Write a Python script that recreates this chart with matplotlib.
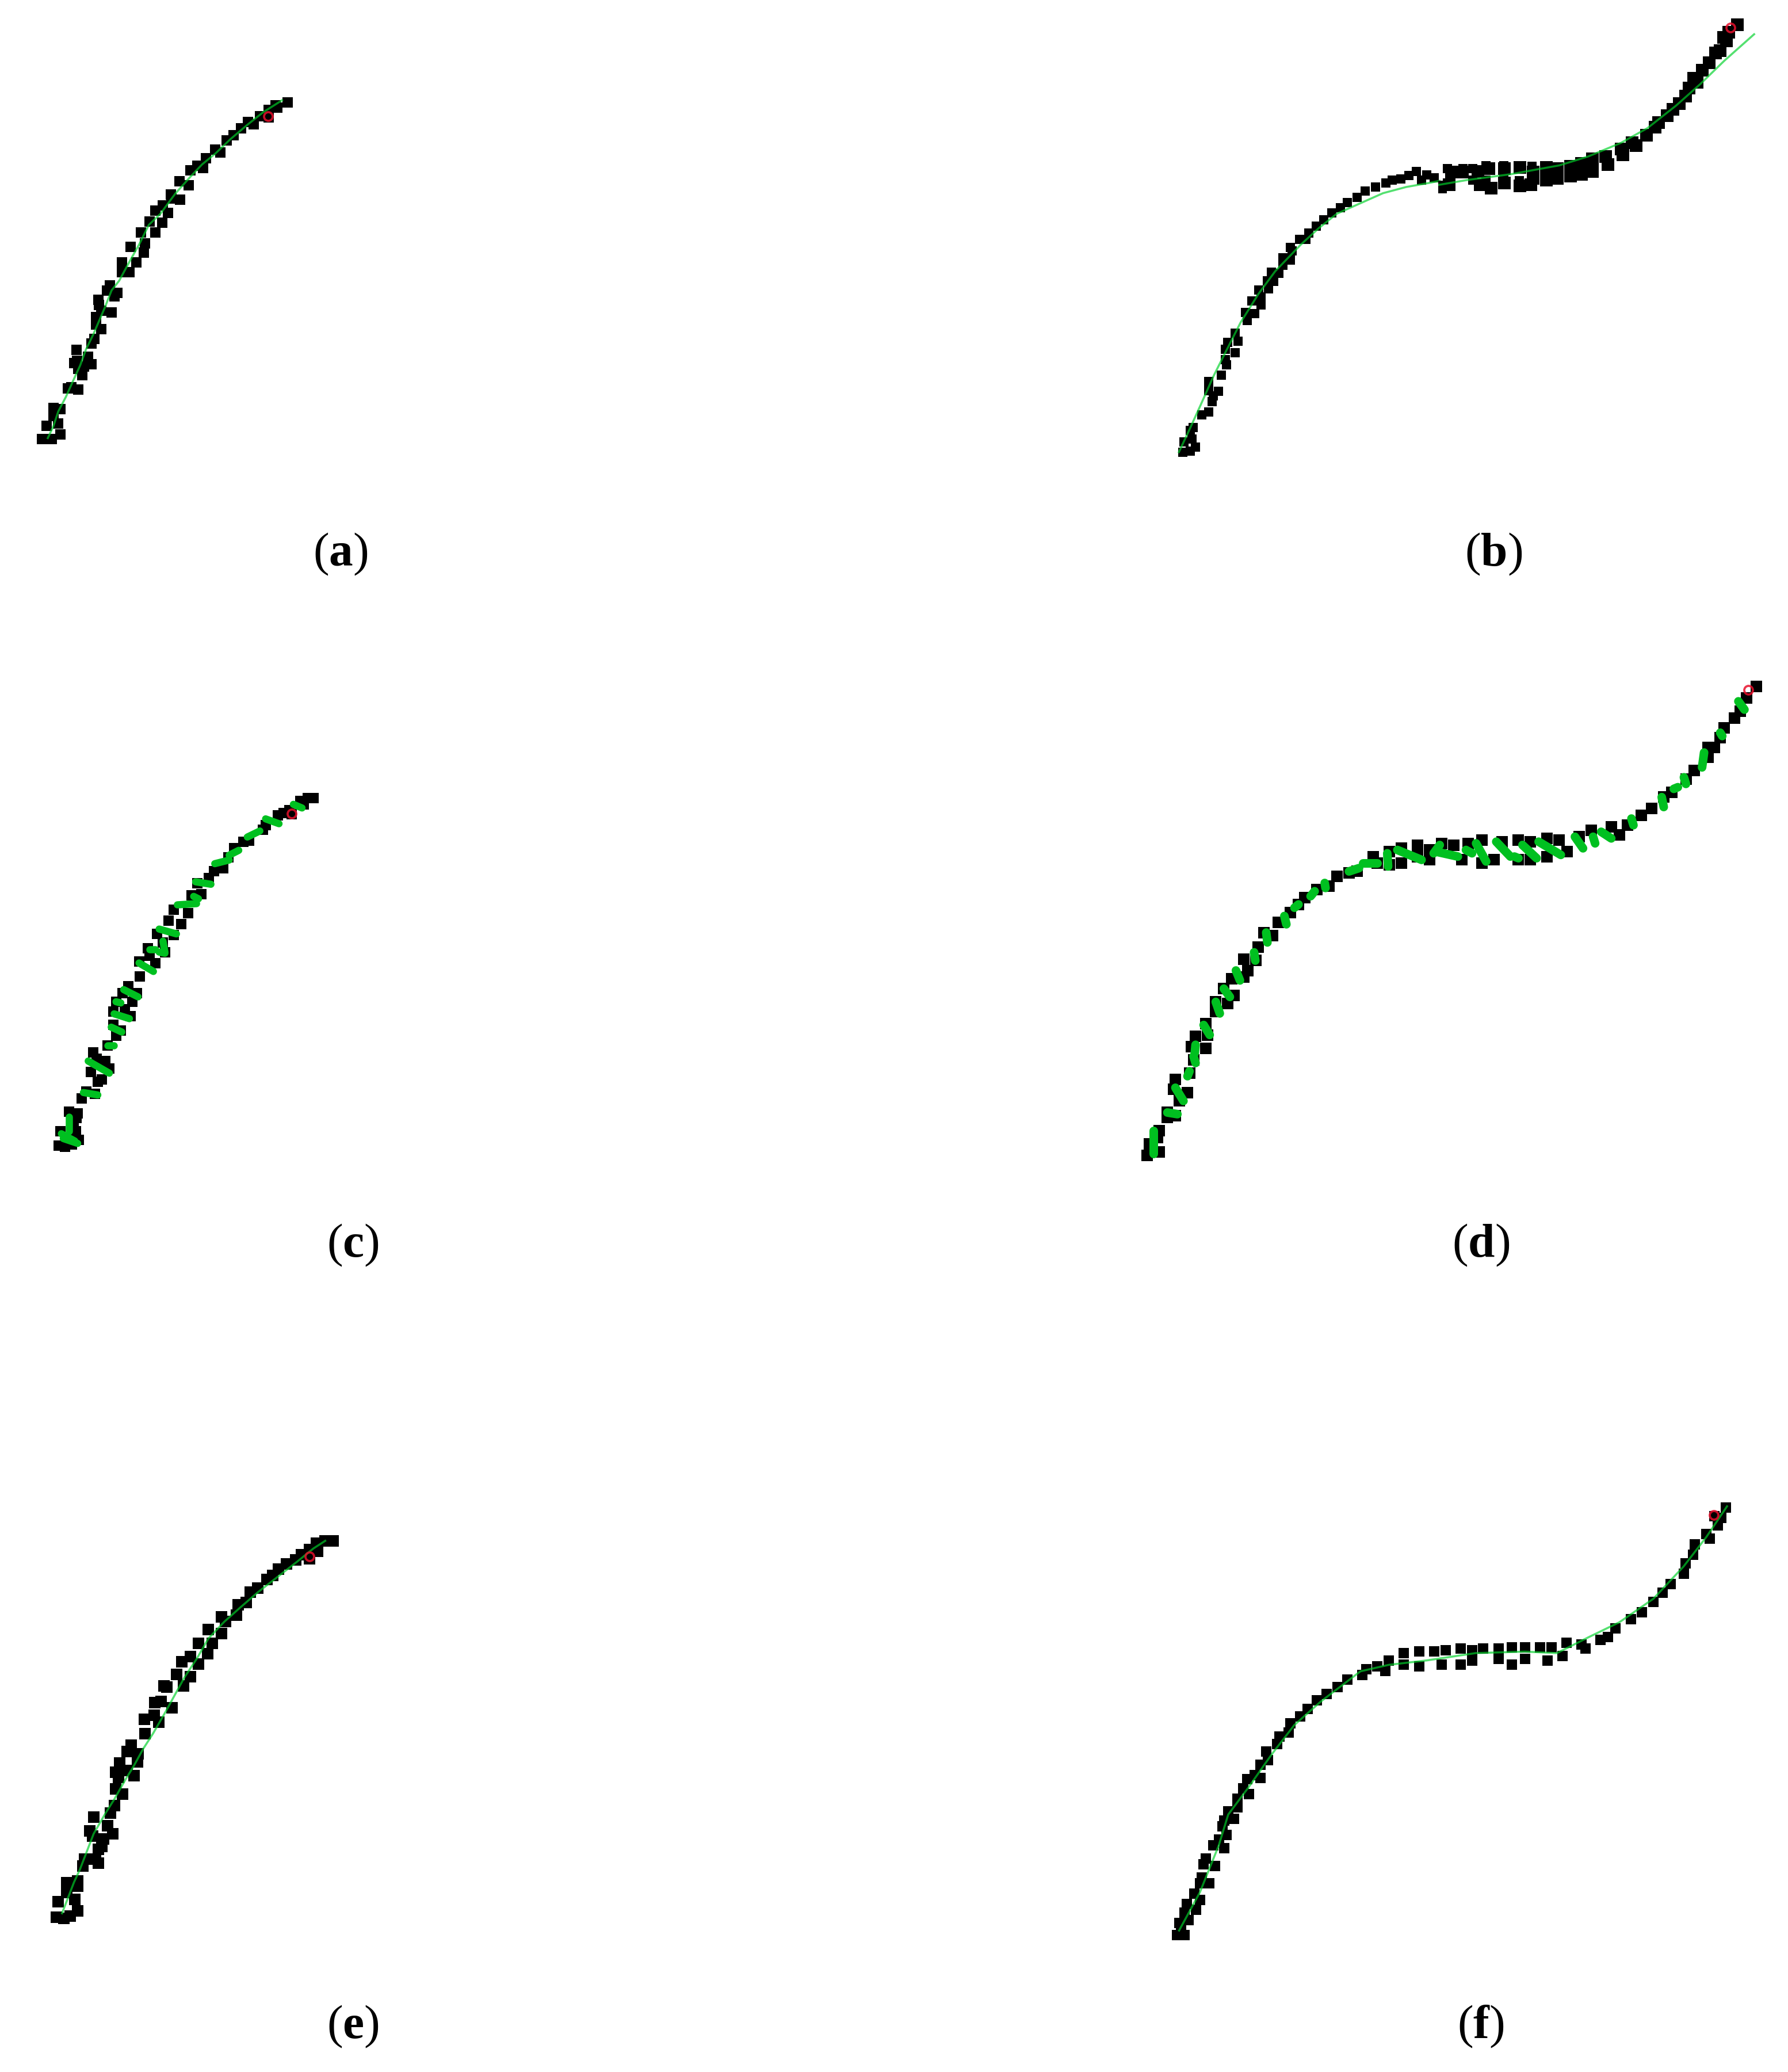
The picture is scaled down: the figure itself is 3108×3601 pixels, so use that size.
import matplotlib
matplotlib.use('Agg')
import matplotlib.pyplot as plt
import numpy as np

plt.rcParams['font.family'] = ['Liberation Serif', 'DejaVu Serif']
plt.rcParams['mathtext.fontset'] = 'custom'
plt.rcParams['mathtext.rm'] = 'Liberation Serif'
plt.rcParams['mathtext.bf'] = 'Liberation Serif:bold'

W, H = 3108, 3601

cloud_a = [(100,1505),(150,1505),(195,1485),(125,1450),(185,1440),(160,1410),(160,1375),(195,1380),(235,1295),(290,1300),(255,1290),
           (310,1240),(290,1215),(280,1135),(285,1180),(270,1190),(340,1165),(360,1195),(320,1205),(375,1090),(360,1110),(410,1050),
           (385,1030),(385,1000),(400,950),(395,930),(465,980),(410,975),(455,870),(440,890),(495,900),(480,915),(520,775),(520,815),
           (560,815),(595,775),(565,710),(635,735),(640,695),(620,650),(695,650),(665,605),(730,610),(695,560),(760,570),(735,540),
           (775,495),(825,515),(780,510),(820,440),(870,455),(880,395),(945,385),(915,375),(960,345),(1010,310),(1035,320),(1070,270),
           (1105,250),(1145,220),(1210,205),(1180,195),(1245,170),(1290,145),(1335,135),(1390,115),(1325,125),(1290,175)]
fit_a = [(130,1500),(160,1450),(185,1390),(225,1330),(265,1260),(300,1200),(330,1135),(370,1070),(400,1015),(430,960),(465,890),
         (505,850),(560,770),(610,700),(660,620),(720,575),(800,490),(880,420),(940,370),(1010,325),(1090,265),(1180,205),(1260,155),(1360,105)]
ring_a = (1288, 172)

cloud_b_left = [(170,1500),(200,1495),(220,1475),(175,1450),(205,1435),(200,1395),(210,1380),(245,1320),(270,1305),(285,1255),(290,1225),
                (310,1205),(270,1200),(270,1155),(320,1125),(340,1075),(335,1050),(375,1015),(335,1000),(345,965),(385,960),(375,920),
                (420,860),(415,820),(450,825),(440,765),(475,785),(475,745),(465,710),(505,705),(500,665),(525,670),(515,625),(545,630),
                (560,590),(590,565),(560,555),(595,520),(590,505),(625,465),(650,465),(660,435),(690,400),(720,370),(750,335),(785,310),
                (810,285),(850,260),(880,230),(920,210),(960,190),(985,175),(1020,170),(1050,155),(1080,135),(1120,150),(1100,175),
                (1150,165),(1200,120),(1215,155),(1260,120),(1300,120),(1300,175),(1350,105),(1350,175),(1420,105),(1420,170),(1490,105),
                (1480,180),(1530,110),(1540,175)]
fit_b_left = [(155,1500),(200,1380),(240,1270),(290,1130),(330,1030),(395,870),(465,730),(530,620),(630,490),(700,410),(770,340),(860,290),
              (950,240),(1040,210),(1130,190),(1170,180)]
cloud_b_right = [(10,955),(60,880),(50,945),(110,880),(180,875),(190,945),(240,960),(230,860),(300,860),(300,935),(370,855),(370,950),
                 (420,945),(430,880),(490,855),(490,920),(540,860),(540,910),(600,850),(600,900),(650,835),(650,890),(700,810),(700,875),
                 (760,800),(770,840),(830,760),(840,790),(880,730),(900,745),(945,690),(985,650),(1000,625),(1040,590),(1065,560),
                 (1095,530),(1125,490),(1140,450),(1175,420),(1160,400),(1200,360),(1230,320),(1260,270),(1280,260),(1295,190),(1310,210),
                 (1320,165),(1360,125)]
fit_b_right = [(0,945),(130,920),(330,890),(550,845),(680,800),(830,730),(950,655),(1080,540),(1190,430),(1300,310),(1435,175)]
ring_b = (1327, 140)

cloud_c = [(95,1500),(130,1505),(165,1495),(200,1475),(105,1440),(185,1440),(175,1405),(150,1360),(195,1365),(190,1385),(215,1305),(285,1285),
           (240,1275),(300,1235),(320,1225),(275,1115),(295,1140),(340,1150),(360,1180),(265,1195),(350,1085),(395,1045),(380,1000),(420,1025),
           (395,905),(440,935),(470,965),(380,945),(460,840),(430,870),(505,870),(480,905),(520,800),(515,740),(600,745),(570,715),(560,685),
           (650,700),(640,660),(610,625),(695,630),(670,570),(735,585),(695,525),(770,540),(790,465),(840,460),(820,415),(880,395),(905,365),
           (955,355),(980,310),(1010,270),(1060,245),(1090,240),(1160,195),(1175,175),(1240,135),(1270,125),(1300,115),(1355,75),(1395,65),
           (1425,65),(1375,90),(1310,130)]
blobs_c = [(1320,90,1365,105),(1175,150,1245,170),(1080,225,1145,200),(985,300,1035,280),(910,335,985,320),(810,410,890,420),(715,505,815,500),
           (800,470,825,480),(620,605,710,625),(640,655,650,700),(570,690,600,690),(620,700,650,705),(515,745,590,780),(435,855,510,885),
           (395,905,420,910),(385,955,465,975),(370,1010,425,1030),(350,1085,385,1085),(250,1150,360,1200),(225,1280,300,1290),(150,1380,150,1440),
           (110,1450,180,1480),(120,1470,195,1490)]
ring_c = (1312, 128)

cloud_d = [(20,1495),(50,1485),(25,1460),(50,1420),(45,1440),(70,1380),(90,1375),(70,1365),(100,1330),(120,1305),(85,1295),(90,1265),(125,1245),
           (135,1205),(130,1165),(165,1170),(140,1135),(170,1130),(165,1095),(190,1060),(190,1030),(220,1035),(210,990),(235,1010),(230,960),
           (260,955),(270,935),(260,900),(295,865),(290,905),(330,830),(310,820),(345,790),(375,760),(395,735),(410,715),(440,690),(470,680),
           (490,650),(520,640),(540,635),(580,590),(590,610),(620,615),(620,575),(650,565),(650,610),(690,555),(690,590),(720,600),(720,570),
           (750,550),(780,555),(800,600),(815,550),(850,610),(850,540),(880,600),(900,545),(940,540),(940,600),(970,600),(970,545),(1010,590),
           (1010,535),(1040,540),(1060,575),(1090,530),(1120,510),(1170,500),(1190,525),(1210,495),(1245,465),(1270,445),(1300,410),(1320,395),
           (1355,355),(1375,330),(1410,290),(1425,260),(1410,260),(1450,200),(1440,230),(1475,170),(1490,150),(1505,110),(1530,75)]
blobs_d = [(35,1420,35,1490),(70,1365,95,1370),(90,1290,110,1330),(125,1240,120,1255),(135,1195,140,1215),(140,1160,138,1185),(160,1100,175,1130),
           (190,1030,200,1065),(210,990,225,1015),(240,935,250,965),(285,880,288,905),(315,820,318,850),(360,770,365,795),(385,745,395,735),
           (425,710,435,695),(460,670,462,685),(520,635,545,625),(555,610,590,610),(615,580,617,620),(640,570,700,600),(735,575,790,590),
           (730,580,745,555),(810,570,825,580),(835,550,860,605),(885,545,920,590),(930,590,940,595),(950,555,985,595),(990,545,1045,585),
           (1080,530,1100,565),(1125,530,1130,550),(1145,515,1170,535),(1220,475,1225,495),(1295,410,1300,440),(1325,385,1335,380),
           (1350,350,1355,370),(1400,275,1395,320),(1440,215,1445,225),(1485,120,1500,145)]
ring_d = (1510, 85)

cloud_e = [(80,1505),(120,1510),(150,1500),(190,1480),(90,1445),(175,1435),(135,1410),(135,1370),(190,1365),(190,1385),(215,1305),(225,1280),
           (280,1280),(295,1295),(310,1230),(295,1240),(265,1190),(250,1170),(270,1115),(340,1150),(365,1180),(320,1200),(355,1100),(375,1070),
           (415,1025),(380,1005),(395,960),(380,940),(475,955),(440,935),(400,905),(460,835),(440,860),(495,870),(490,900),(530,790),(525,735),
           (575,720),(600,745),(580,670),(610,665),(665,690),(640,610),(625,605),(725,605),(690,560),(760,570),(715,510),(760,490),(800,520),
           (845,480),(800,440),(870,440),(850,385),(915,400),(935,355),(915,335),(990,330),(1000,290),(1040,280),(1060,240),(1100,225),(1145,190),
           (1175,175),(1205,150),(1245,130),(1290,115),(1320,95),(1360,75),(1400,80),(1395,50),(1440,40),(1480,40),(1360,110)]
fit_e = [(110,1490),(140,1430),(170,1370),(200,1320),(240,1240),(270,1180),(330,1100),(375,1045),(430,970),(470,920),(520,850),(570,790),
         (630,710),(680,640),(730,570),(790,500),(850,420),(930,355),(1010,300),(1100,240),(1200,180),(1300,120),(1380,70),(1440,40)]
ring_e = (1360, 100)

cloud_f = [(40,1495),(60,1495),(50,1475),(45,1455),(70,1445),(60,1420),(90,1410),(65,1390),(100,1375),(85,1355),(100,1320),(125,1320),(105,1300),
           (110,1255),(140,1260),(115,1235),(135,1190),(165,1200),(150,1170),(170,1155),(160,1125),(165,1105),(190,1100),(175,1075),(200,1060),
           (200,1030),(230,1015),(215,995),(225,965),(245,950),(260,960),(260,915),(280,900),(275,870),(305,845),(310,820),(335,805),(340,775),
           (365,750),(385,725),(410,695),(435,675),(465,650),(490,625),(530,610),(540,590),(570,580),(600,560),(590,595),(640,535),(680,530),
           (640,575),(680,580),(720,530),(740,575),(750,525),(790,520),(790,575),(820,525),(820,560),(850,520),(890,520),(890,555),(925,515),
           (925,575),(960,515),(960,555),(1000,515),(1020,560),(1030,515),(1070,500),(1060,545),(1110,505),(1120,520),(1160,490),(1180,480),
           (1200,450),(1240,420),(1270,395),(1300,360),(1325,330),(1345,300),(1380,265),(1385,230),(1405,200),(1410,165),(1440,130),(1450,145),
           (1470,100),(1480,75),(1462,68),(1492,40)]
fit_f = [(45,1480),(100,1350),(150,1190),(175,1085),(230,990),(290,880),(350,780),(420,700),(525,597),(600,575),(700,560),(830,535),(960,530),
         (1045,535),(1130,480),(1210,430),(1300,350),(1380,240),(1440,140),(1495,35)]
ring_f = (1460, 65)

letters = ['a', 'b', 'c', 'd', 'e', 'f']
caption_x = [592, 2596, 613, 2574, 613, 2574]
caption_y = [963, 963, 2164, 2164, 3522, 3522]


def panel(box, xmax, ymax, cloud, fit=None, blobs=None, ring=None, size=20, blob_lw=3.0):
    # box is the crop of the page in pixels, xmax/ymax the units it was read in
    x0, y0, w, h = box
    ax = fig.add_axes([x0 / W, 1 - (y0 + h) / H, w / W, h / H])
    ax.set_xlim(0, xmax)
    ax.set_ylim(ymax, 0)
    ax.axis('off')
    pts = np.array(cloud)
    ax.scatter(pts[:, 0], pts[:, 1], s=size, marker='s', color='black', linewidths=0, zorder=2)
    if fit is not None:
        line = np.array(fit)
        ax.plot(line[:, 0], line[:, 1], color='#00d12a', alpha=0.67, lw=0.85, zorder=3)
    if blobs is not None:
        for x1, y1, x2, y2 in blobs:
            ax.plot([x1, x2], [y1, y2], color='#00c020', lw=blob_lw, solid_capstyle='round', zorder=3)
    if ring is not None:
        ax.plot(ring[0], ring[1], 'o', ms=3.6, mfc='none', mec='#e8102c', mew=0.9, alpha=0.85, zorder=4)


fig = plt.figure(figsize=(W / 300, H / 300), dpi=300)

panel((40, 130, 500, 660), 1510, 1568, cloud_a, fit=fit_a, ring=ring_a)
panel((1980, 250, 700, 560), 1568, 1568, cloud_b_left, fit=fit_b_left, size=16)
panel((2500, 0, 600, 400), 1568, 1176, cloud_b_right, fit=fit_b_right, ring=ring_b, size=26)
panel((70, 1360, 500, 660), 1500, 1568, cloud_c, blobs=blobs_c, ring=ring_c)
panel((1980, 1150, 1100, 900), 1568, 1568, cloud_d, blobs=blobs_d, ring=ring_d, size=22, blob_lw=3.6)
panel((70, 2660, 540, 700), 1570, 1568, cloud_e, fit=fit_e, ring=ring_e, size=22)
panel((2020, 2600, 1030, 800), 1568, 1568, cloud_f, fit=fit_f, ring=ring_f, size=20)

for letter, cx, cy in zip(letters, caption_x, caption_y):
    fig.text(cx / W, 1 - cy / H, r'$\mathrm{(}\mathbf{' + letter + r'}\mathrm{)}$',
             fontsize=20, ha='center', va='center', color='black')

fig.savefig('out.png', dpi=300, facecolor='white')
